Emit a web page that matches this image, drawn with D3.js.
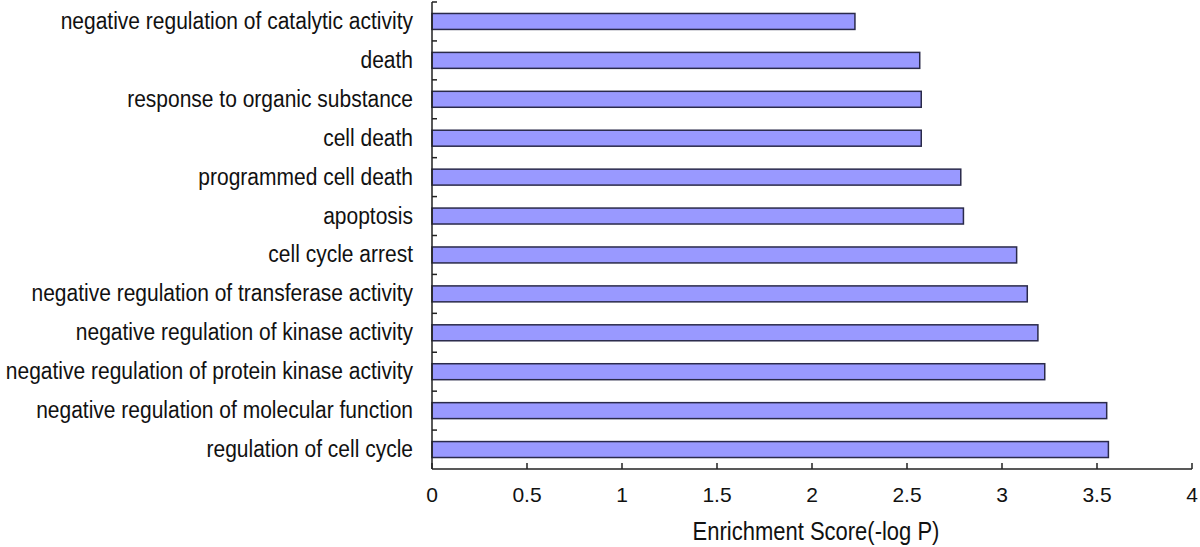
<!DOCTYPE html>
<html><head><meta charset="utf-8">
<script src="https://cdn.jsdelivr.net/npm/d3@7"></script>
<style>body{margin:0;background:#fff}svg{display:block}text{font-family:"Liberation Sans",Arial,sans-serif;fill:#111}</style>
</head><body><svg id="c" width="1200" height="547"></svg>
<script>
const categories = ["negative regulation of catalytic activity","death","response to organic substance","cell death","programmed cell death","apoptosis","cell cycle arrest","negative regulation of transferase activity","negative regulation of kinase activity","negative regulation of protein kinase activity","negative regulation of molecular function","regulation of cell cycle"];
const values = [2.226,2.567,2.575,2.575,2.783,2.797,3.077,3.133,3.189,3.225,3.551,3.56];
const xTicks = [0,0.5,1,1.5,2,2.5,3,3.5,4];
const xTitle = "Enrichment Score(-log P)";

const svg = d3.select("#c");
const m = {left:432, right:1192, top:2, bottom:469};
const x = d3.scaleLinear().domain([0,4]).range([m.left,m.right]);
const y = d3.scaleBand().domain(categories).range([m.top,m.bottom]).paddingInner(0.59).paddingOuter(0.295);
const band = d3.scaleBand().domain(categories).range([m.top,m.bottom]);

// bars
svg.append("g").selectAll("rect").data(categories).join("rect")
  .attr("x", x(0)).attr("y", d=>y(d))
  .attr("width", (d,i)=>x(values[i])-x(0)).attr("height", y.bandwidth())
  .attr("fill","#9999ff").attr("stroke","#2a2a4a").attr("stroke-width",1.5);

// y axis
svg.append("line").attr("x1",m.left).attr("x2",m.left).attr("y1",m.top).attr("y2",m.bottom).attr("stroke","#222").attr("stroke-width",1.5);
svg.append("g").selectAll("line").data(categories).join("line")
  .attr("x1",m.left).attr("x2",m.left+5).attr("y1",d=>band(d)).attr("y2",d=>band(d)).attr("stroke","#222").attr("stroke-width",1.5);
svg.append("g").selectAll("text").data(categories).join("text")
  .attr("transform",d=>`translate(${m.left-19},${band(d)+band.bandwidth()/2+7.5}) scale(1,1.1)`)
  .attr("text-anchor","end").attr("font-size",21).text(d=>d);

// x axis
svg.append("line").attr("x1",m.left).attr("x2",m.right).attr("y1",m.bottom).attr("y2",m.bottom).attr("stroke","#222").attr("stroke-width",1.5);
svg.append("g").selectAll("line").data(xTicks).join("line")
  .attr("x1",d=>x(d)).attr("x2",d=>x(d)).attr("y1",m.bottom).attr("y2",m.bottom-6).attr("stroke","#222").attr("stroke-width",1.5);
svg.append("g").selectAll("text").data(xTicks).join("text")
  .attr("x",d=>x(d)).attr("y",502).attr("text-anchor","middle").attr("font-size",21).text(d=>d);
svg.append("text").attr("transform","translate(816,540) scale(1,1.15)").attr("text-anchor","middle").attr("font-size",22).text(xTitle);
</script></body></html>
